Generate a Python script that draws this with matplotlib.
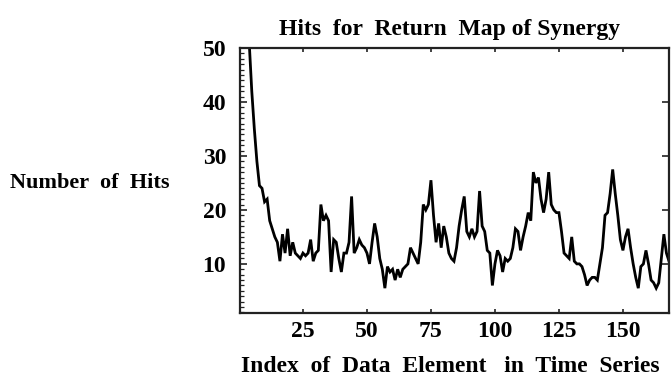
import matplotlib
matplotlib.use('Agg')
import matplotlib.pyplot as plt
from matplotlib.ticker import MultipleLocator, FixedLocator
import numpy as np

# hits per data element (index 1..168)
index = np.arange(1, 169)
hits = [
    90, 75, 60, 51, 42, 35, 29, 24.5, 24, 21.5,
    22, 18, 16.5, 15, 14, 10.5, 15.5, 12, 16.5, 11.5,
    14, 12, 11.5, 11, 12, 11.5, 12, 14.5, 10.5, 12,
    12.5, 21, 18, 19, 18, 8.5, 14.5, 14, 11, 8.5,
    12, 12, 14, 22.5, 12, 13, 14.5, 13.5, 13, 12,
    10, 14, 17.5, 15, 11, 9, 5.5, 9.5, 8.5, 9,
    7, 9, 7.5, 9, 9.5, 10, 13, 12, 11, 10,
    14, 21, 20, 21, 25.5, 19, 14, 17.5, 13, 17,
    15, 12, 11, 10.5, 13, 17, 20, 22.5, 16, 15,
    16.5, 15, 16, 23.5, 17, 16, 12.5, 12, 6, 10,
    12.5, 11.5, 8.5, 11, 10.5, 11, 13, 16.5, 16, 12.5,
    15, 17, 19.5, 18, 27, 25, 26, 22, 19.5, 22,
    27, 21, 20, 19.5, 19.5, 16, 12, 11.5, 11, 15,
    10.5, 10, 10, 9.5, 8, 6, 7, 7.5, 7.5, 7,
    10, 13, 19, 19.5, 23, 27.5, 23, 19, 14.5, 12.5,
    15, 16.5, 13, 10, 7.5, 5.5, 9.5, 10, 12.5, 10,
    7, 6.5, 5.5, 6.5, 11, 15.5, 12, 10.5,
]
x_ticks = [25, 50, 75, 100, 125, 150]
y_ticks = [10, 20, 30, 40, 50]

plt.rcParams['font.family'] = ['Liberation Serif', 'DejaVu Serif']
plt.rcParams['font.weight'] = 'bold'

W, H = 672, 385
fig = plt.figure(figsize=(W / 100, H / 100), dpi=100)
ax = fig.add_axes([240 / W, 1 - 313 / H, (669 - 240) / W, (313 - 48) / H])

ax.plot(index, hits, color='black', lw=2.0, solid_joinstyle='miter')
ax.set_xlim(0.4, 168)
ax.set_ylim(0.9, 50)

ax.xaxis.set_major_locator(FixedLocator(x_ticks))
ax.yaxis.set_major_locator(FixedLocator(y_ticks))
ax.yaxis.set_minor_locator(MultipleLocator(1))
ax.tick_params(axis='both', which='both', direction='in', colors='#222222',
               labelcolor='black', labelsize=17)
ax.tick_params(axis='x', which='major', length=3, width=1.2, top=True, pad=6)
ax.tick_params(axis='y', which='major', length=5, width=1.2, right=True, pad=10)
ax.tick_params(axis='y', which='minor', length=3, width=0.9, left=True, right=False)
for lab in ax.get_xticklabels() + ax.get_yticklabels():
    lab.set_fontweight('bold')
for sp in ax.spines.values():
    sp.set_linewidth(1.6)
    sp.set_color('#222222')

fig.text(450 / W, 1 - 30 / H, 'Hits  for  Return  Map of Synergy',
         ha='center', va='center', fontsize=17, fontweight='bold')
fig.text(450 / W, 1 - 367 / H, 'Index  of  Data  Element   in  Time  Series',
         ha='center', va='center', fontsize=17, fontweight='bold')
fig.text(90 / W, 1 - 183 / H, 'Number  of  Hits',
         ha='center', va='center', fontsize=16, fontweight='bold')

fig.savefig('out.png', dpi=100, facecolor='white')
